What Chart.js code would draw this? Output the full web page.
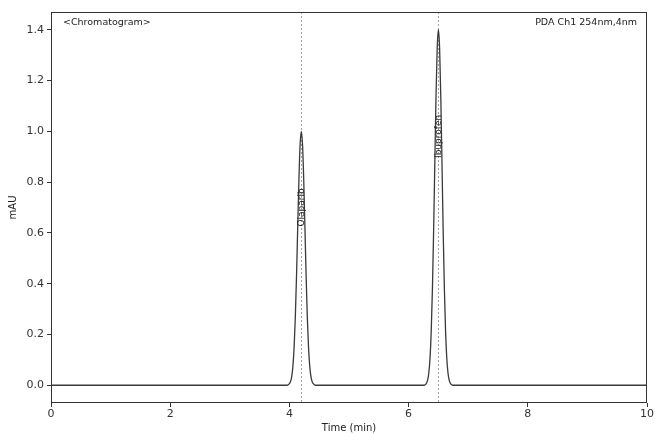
<!DOCTYPE html>
<html>
<head>
<meta charset="utf-8">
<script src="https://cdn.jsdelivr.net/npm/chart.js@4/dist/chart.umd.min.js"></script>
<style>
	html, body { margin: 0; padding: 0; background: #fff; }
	#chart { display: block; }
</style>
</head>
<body>
<canvas id="chart" width="655" height="434"></canvas>
<script>
const timeMin = [
	0,
	3.94, 3.96, 3.98, 4.00, 4.02, 4.04, 4.06, 4.08, 4.10, 4.12, 4.14, 4.16, 4.18, 4.20,
	4.22, 4.24, 4.26, 4.28, 4.30, 4.32, 4.34, 4.36, 4.38, 4.40, 4.42, 4.44, 4.46,
	6.24, 6.26, 6.28, 6.30, 6.32, 6.34, 6.36, 6.38, 6.40, 6.42, 6.44, 6.46, 6.48, 6.50,
	6.52, 6.54, 6.56, 6.58, 6.60, 6.62, 6.64, 6.66, 6.68, 6.70, 6.72, 6.74, 6.76,
	10
];
const signalMAU = [
	0,
	0, 0, 0.002, 0.006, 0.015, 0.036, 0.078, 0.154, 0.272, 0.435, 0.626, 0.812, 0.949, 1.000,
	0.949, 0.812, 0.626, 0.435, 0.272, 0.154, 0.078, 0.036, 0.015, 0.006, 0.002, 0, 0,
	0, 0, 0.003, 0.008, 0.021, 0.050, 0.109, 0.216, 0.381, 0.609, 0.876, 1.137, 1.329, 1.400,
	1.329, 1.137, 0.876, 0.609, 0.381, 0.216, 0.109, 0.050, 0.021, 0.008, 0.003, 0, 0,
	0
];
const peakNames = ["Olaparib", "Ibuprofen"];
const peakTimes = [4.2, 6.5];
const peakLabelAt = [0.70, 0.98];
const xTicks = [0, 2, 4, 6, 8, 10];
const yTicks = [0, 0.2, 0.4, 0.6, 0.8, 1.0, 1.2, 1.4];

const FONT = "'DejaVu Sans', sans-serif";
const INK = "#333";

const peakMarks = {
	id: "peakMarks",
	beforeDatasetsDraw(c) {
		const { ctx, chartArea: a, scales } = c;
		ctx.save();
		ctx.strokeStyle = "#8a8a8a";
		ctx.lineWidth = 0.8;
		ctx.setLineDash([2, 2]);
		peakTimes.forEach((t) => {
			const x = Math.round(scales.x.getPixelForValue(t)) + 0.5;
			ctx.beginPath();
			ctx.moveTo(x, a.top);
			ctx.lineTo(x, a.bottom);
			ctx.stroke();
		});
		ctx.restore();
	},
	afterDatasetsDraw(c) {
		const { ctx, chartArea: a, scales } = c;
		ctx.save();
		ctx.fillStyle = "#222";
		ctx.font = "9px " + FONT;
		ctx.textAlign = "center";
		ctx.textBaseline = "middle";
		peakNames.forEach((name, i) => {
			ctx.save();
			ctx.translate(scales.x.getPixelForValue(peakTimes[i]), scales.y.getPixelForValue(peakLabelAt[i]));
			ctx.rotate(-Math.PI / 2);
			ctx.fillText(name, 0, 0);
			ctx.restore();
		});
		// corner notes
		ctx.font = "9.5px " + FONT;
		ctx.textAlign = "left";
		ctx.fillText("<Chromatogram>", a.left + 12, a.top + 11);
		ctx.textAlign = "right";
		ctx.fillText("PDA Ch1 254nm,4nm", a.right - 10, a.top + 11);
		// frame
		ctx.strokeStyle = INK;
		ctx.lineWidth = 1;
		ctx.strokeRect(a.left + 0.5, a.top + 0.5, a.right - a.left - 1, a.bottom - a.top - 1);
		ctx.restore();
	}
};

new Chart(document.getElementById("chart"), {
	type: "line",
	data: {
		datasets: [{
			data: timeMin.map((t, i) => ({ x: t, y: signalMAU[i] })),
			borderColor: "#3a3a3a",
			borderWidth: 1.3,
			pointRadius: 0,
			fill: false,
			cubicInterpolationMode: "monotone"
		}]
	},
	options: {
		responsive: false,
		animation: false,
		devicePixelRatio: 1,
		layout: { padding: { top: 12, right: 7, left: 7, bottom: 0 } },
		plugins: { legend: { display: false }, tooltip: { enabled: false } },
		scales: {
			x: {
				type: "linear",
				min: 0,
				max: 10,
				afterBuildTicks: (s) => { s.ticks = xTicks.map((v) => ({ value: v })); },
				afterFit: (s) => { s.height = 31; },
				ticks: { color: INK, font: { family: FONT, size: 11 }, padding: 1, maxRotation: 0, callback: (v) => String(v) },
				grid: { drawOnChartArea: false, drawTicks: true, tickLength: 4, color: INK },
				border: { display: false },
				title: { display: true, text: "Time (min)", color: "#222", font: { family: FONT, size: 10 }, padding: { top: 0, bottom: 0 } }
			},
			y: {
				min: -0.07,
				max: 1.47,
				afterBuildTicks: (s) => { s.ticks = yTicks.map((v) => ({ value: v })); },
				afterFit: (s) => { s.width = 44; },
				ticks: { color: INK, font: { family: FONT, size: 11 }, padding: 3, callback: (v) => v.toFixed(1) },
				grid: { drawOnChartArea: false, drawTicks: true, tickLength: 4, color: INK },
				border: { display: false },
				title: { display: true, text: "mAU", color: "#222", font: { family: FONT, size: 10 }, padding: { top: 0, bottom: 0 } }
			}
		}
	},
	plugins: [peakMarks]
});
</script>
</body>
</html>
